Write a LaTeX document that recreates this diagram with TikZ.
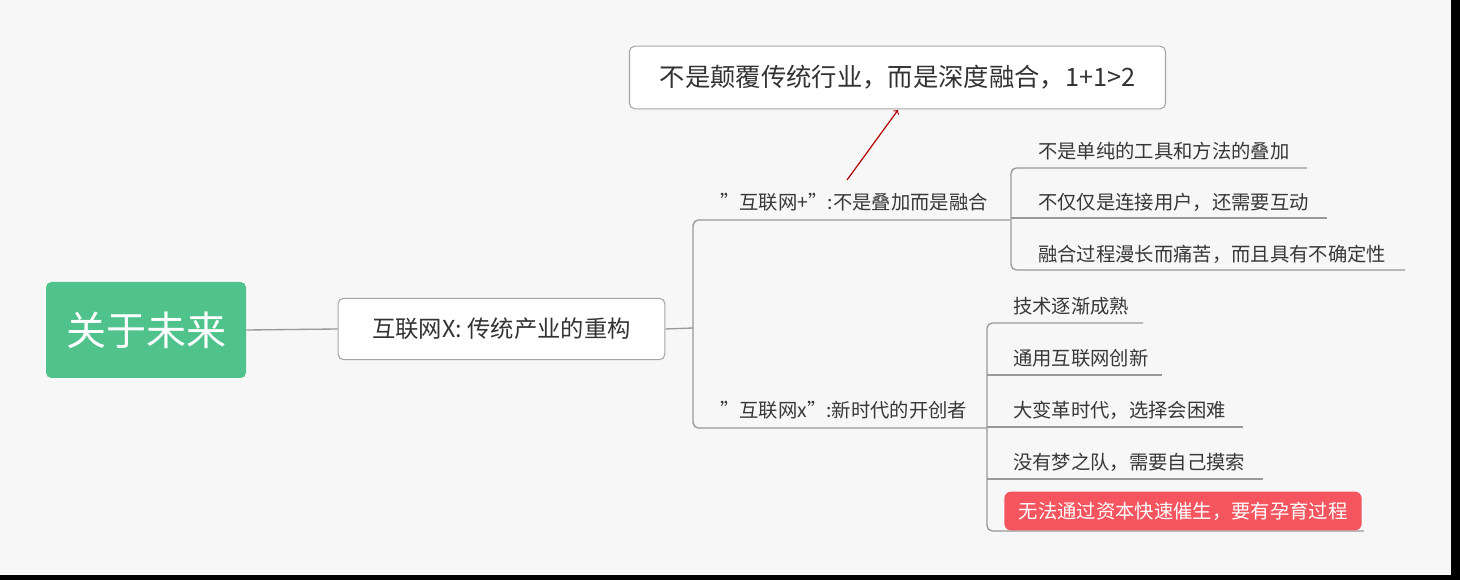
\documentclass[tikz,border=0pt]{standalone}
\usepackage{fontspec}
\setmainfont{Noto Sans CJK SC}
\newcommand{\dq}{\symbol{34}}
\begin{document}
\begin{tikzpicture}[x=0.75pt,y=-0.75pt,
  ln/.style={draw=black!40,line width=1pt,rounded corners=4pt},
  lf/.style={anchor=base west,inner sep=0pt,text=black!78,font=\fontsize{14.5}{15}\selectfont},
  bx/.style={draw=black!35,fill=white,rounded corners=4pt,line width=0.8pt,text=black!80}]
\useasboundingbox (0,0) rectangle (1460,580);
\fill[black] (0,0) rectangle (1460,580);
\fill[black!3] (0,0) rectangle (1451,575);
\node[fill={rgb,255:red,79;green,195;blue,139},rounded corners=4pt,minimum width=150pt,minimum height=72pt,text=white,font=\fontsize{30}{31}\selectfont] (root) at (146,330) {关于未来};
\node[bx,minimum width=245pt,minimum height=46pt,font=\fontsize{17.5}{19}\selectfont] (mid) at (501.5,329) {互联网X: 传统产业的重构};
\node[bx,minimum width=402pt,minimum height=47pt,font=\fontsize{19}{21}\selectfont] (top) at (897.5,77.5) {不是颠覆传统行业，而是深度融合，1+1>2};
\draw[ln] (root.east) -- (mid.west);
\coordinate (j) at (693,328);
\draw[ln] (mid.east) -- (j);
\draw[ln] (1010,220) -- (693,220) -- (693,428) -- (987,428);
\node[lf] (b1) at (720,210) {\dq 互联网+\dq:不是叠加而是融合};
\node[lf] (b2) at (720,418) {\dq 互联网x\dq:新时代的开创者};
\draw[ln] (1307,168) -- (1011,168) -- (1011,270) -- (1405,270);
\draw[ln] (1011,218) -- (1327,218);
\node[lf] (l1) at (1038,159) {不是单纯的工具和方法的叠加};
\node[lf] (l2) at (1038,210) {不仅仅是连接用户，还需要互动};
\node[lf] (l3) at (1038,262) {融合过程漫长而痛苦，而且具有不确定性};
\draw[ln] (1143,323) -- (987,323) -- (987,531) -- (1364,531);
\draw[ln] (987,375) -- (1162,375);
\draw[ln] (987,427) -- (1243,427);
\draw[ln] (987,479) -- (1263,479);
\node[lf] (m1) at (1013,314) {技术逐渐成熟};
\node[lf] (m2) at (1013,366) {通用互联网创新};
\node[lf] (m3) at (1013,418) {大变革时代，选择会困难};
\node[lf] (m4) at (1013,470) {没有梦之队，需要自己摸索};
\node[fill={rgb,255:red,245;green,85;blue,95},rounded corners=5pt,minimum width=268pt,minimum height=29pt,inner sep=0pt,text=white,font=\fontsize{14.5}{15}\selectfont] (m5) at (1183,511) {无法通过资本快速催生，要有孕育过程};
\coordinate (a0) at (847,180);
\draw[red!70!black,line width=0.9pt,->] (a0) -- (898,110);
\end{tikzpicture}
\end{document}
